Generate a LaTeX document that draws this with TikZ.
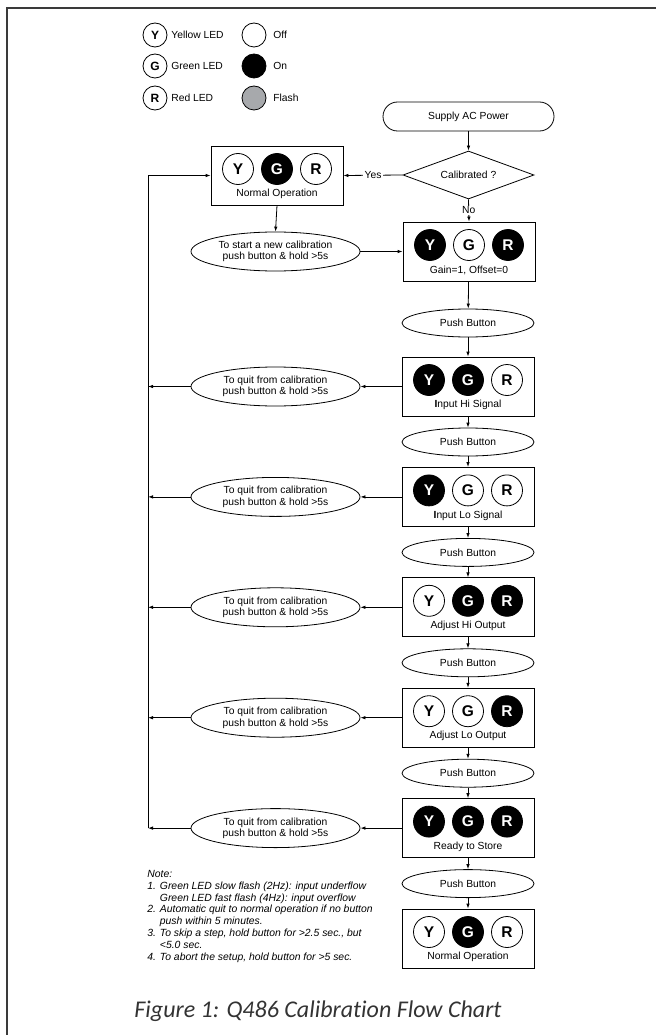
\documentclass[tikz,border=0pt]{standalone}
\usepackage{fontspec}
\setmainfont{Liberation Sans}
\newfontfamily\capfont[Ligatures={NoCommon,NoContextual}]{Carlito}
\usetikzlibrary{shapes.geometric,arrows.meta,positioning}

\definecolor{flashgray}{HTML}{A7A9AC}
\definecolor{capgray}{HTML}{333333}
\definecolor{framegray}{HTML}{3A3A3A}

\tikzset{
  stage/.style={draw, minimum width=132pt, minimum height=59pt, inner sep=0},
  bubble/.style={draw, ellipse, minimum width=132pt, minimum height=28pt, inner sep=0},
  quit/.style={draw, ellipse, minimum width=169pt, minimum height=39pt, inner sep=0, align=center},
  led/.style={draw, circle, minimum size=31pt, inner sep=0, font=\fontsize{15.5}{16}\selectfont\bfseries},
  ledon/.style={led, fill=black, text=white},
  key/.style={draw, circle, minimum size=24pt, inner sep=0, font=\fontsize{12}{12}\selectfont\bfseries},
  keytext/.style={anchor=west, inner sep=0},
  flow/.style={-{Latex[length=5pt,width=3.5pt]}},
}

% box with the three LEDs and a caption line
\newcommand{\ledbox}[7]{%
  \node[stage] (#1) at (#2,#3) {};
  \node[#4] (#1-y) at (#2-39,#3-6.5) {Y};
  \node[#5] (#1-g) at (#2,#3-6.5) {G};
  \node[#6] (#1-r) at (#2+39,#3-6.5) {R};
  \node[inner sep=0] (#1-text) at (#2,#3+18.5) {#7};
}

\begin{document}
\begin{tikzpicture}[x=1pt, y=-1pt, line width=0.8pt,
    font=\fontsize{10.3}{11.5}\selectfont]
  \useasboundingbox (0,0) rectangle (656,1035);
  \draw[line width=2.5pt, framegray] (7,1035) -- (7,8) -- (656,8);

  % legend
  \node[key] (keyY) at (155,35) {Y};
  \node[key] (keyG) at (155,66) {G};
  \node[key] (keyR) at (155,98) {R};
  \node[keytext] at (171,35) {Yellow LED};
  \node[keytext] at (171,66) {Green LED};
  \node[keytext] at (171,98) {Red LED};
  \node[key] (keyOff) at (254,35) {};
  \node[key, fill=black] (keyOn) at (254,66) {};
  \node[key, fill=flashgray] (keyFlash) at (254,98) {};
  \node[keytext] at (273,35) {Off};
  \node[keytext] at (273,66) {On};
  \node[keytext] at (273,98) {Flash};

  % start
  \node[draw, rounded corners=14.5pt, minimum width=171pt, minimum height=29pt] (power) at (468.5,116.5) {Supply AC Power};
  \node[draw, diamond, aspect=2.7, minimum width=131pt, minimum height=48pt, inner sep=0] (calib) at (468.5,175) {Calibrated ?};

  \ledbox{normal}{277}{175.5}{led}{ledon}{led}{Normal Operation}
  \ledbox{gain}{469}{251.5}{ledon}{led}{ledon}{Gain=1, Offset=0}
  \node[quit] (start) at (275.5,251.5) {To start a new calibration\\push button \& hold >5s};

  % calibration steps
  \ledbox{hi}{468}{386.5}{ledon}{ledon}{led}{\textbf{I}nput Hi Signal}
  \ledbox{lo}{468}{496.9}{ledon}{led}{led}{\textbf{I}nput Lo Signal}
  \ledbox{adjhi}{468}{607.3}{led}{ledon}{ledon}{Adjust Hi Output}
  \ledbox{adjlo}{468}{717.7}{led}{led}{ledon}{Adjust Lo Output}
  \ledbox{store}{468}{828.1}{ledon}{ledon}{ledon}{Ready to Store}
  \ledbox{final}{468}{938.5}{led}{ledon}{led}{Normal Operation}

  \node[bubble] (push1) at (468,323) {Push Button};
  \node[bubble] (push2) at (468,442) {Push Button};
  \node[bubble] (push3) at (468,552.4) {Push Button};
  \node[bubble] (push4) at (468,662.8) {Push Button};
  \node[bubble] (push5) at (468,773.2) {Push Button};
  \node[bubble] (push6) at (468,883.6) {Push Button};

  \node[quit] (qhi) at (275.5,386.5) {To quit from calibration\\push button \& hold >5s};
  \node[quit] (qlo) at (275.5,496.9) {To quit from calibration\\push button \& hold >5s};
  \node[quit] (qadjhi) at (275.5,607.3) {To quit from calibration\\push button \& hold >5s};
  \node[quit] (qadjlo) at (275.5,717.7) {To quit from calibration\\push button \& hold >5s};
  \node[quit] (qstore) at (275.5,828.1) {To quit from calibration\\push button \& hold >5s};
  \coordinate (rail) at (148,0);

  % connectors
  \draw[flow] (power) -- (calib);
  \draw[flow] (calib.west) -- node[fill=white, inner sep=1.5pt] {Yes} (normal.east);
  \draw[flow] (calib.south) -- node[fill=white, inner sep=1pt] {No} (gain.north);
  \draw[flow] (normal.south) -- (start.north);
  \draw[flow] (start.east) -- (gain.west);
  \draw[flow] (gain) -- (push1);
  \draw[flow] (push1) -- (hi);
  \draw[flow] (hi) -- (push2);
  \draw[flow] (push2) -- (lo);
  \draw[flow] (lo) -- (push3);
  \draw[flow] (push3) -- (adjhi);
  \draw[flow] (adjhi) -- (push4);
  \draw[flow] (push4) -- (adjlo);
  \draw[flow] (adjlo) -- (push5);
  \draw[flow] (push5) -- (store);
  \draw[flow] (store) -- (push6);
  \draw[flow] (push6) -- (final);
  \foreach \s in {hi,lo,adjhi,adjlo,store} {
    \draw[flow] (\s.west) -- (q\s.east);
    \draw[flow] (q\s.west) -- (q\s.west -| rail);
  }
  \draw[flow] (qstore.west -| rail) -- (rail |- normal.west) -- (normal.west);

  % notes
  \node[anchor=north west, align=left, inner sep=0, font=\itshape\fontsize{10.4}{11.8}\selectfont] (note) at (147,870) {Note:\\
    1. Green LED slow flash (2Hz): input underflow\\
    \hphantom{1. }Green LED fast flash (4Hz): input overflow\\
    2. Automatic quit to normal operation if no button\\
    \hphantom{2. }push within 5 minutes.\\
    3. To skip a step, hold button for >2.5 sec., but\\
    \hphantom{3. }<5.0 sec.\\
    4. To abort the setup, hold button for >5 sec.};

  \node[anchor=base west, inner sep=0, text=capgray, font=\capfont\itshape\fontsize{24}{28}\selectfont] (caption) at (134,1017) {Figure 1: Q486 Calibration Flow Chart};
\end{tikzpicture}
\end{document}
